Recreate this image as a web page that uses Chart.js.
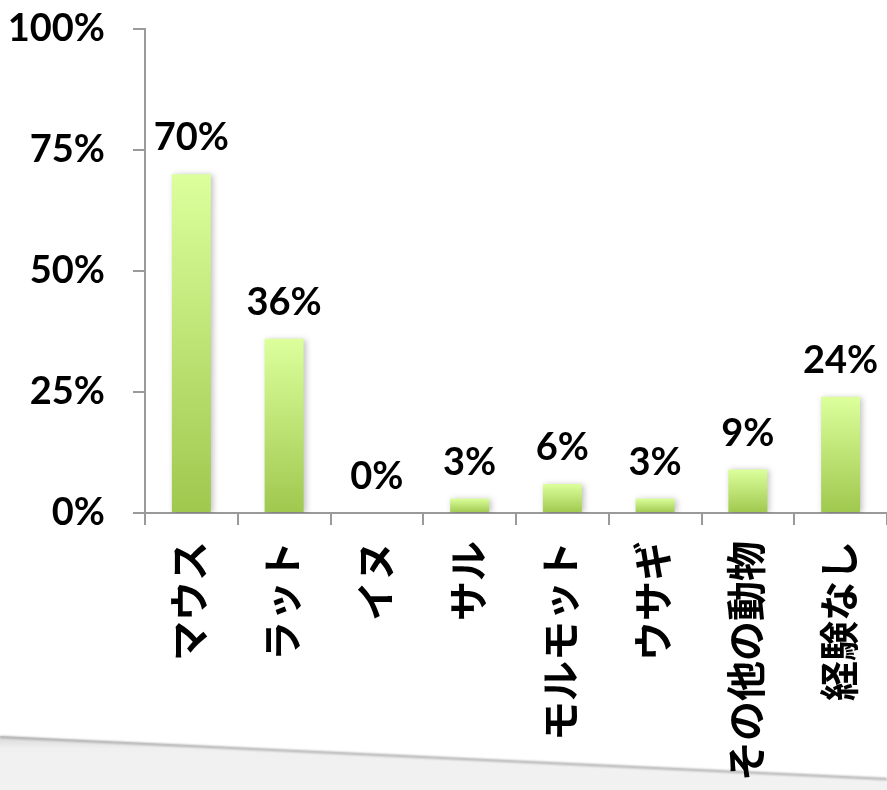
<!DOCTYPE html>
<html>
<head>
<meta charset="utf-8">
<script src="https://cdn.jsdelivr.net/npm/chart.js@4"></script>
<style>
  html, body { margin: 0; padding: 0; background: #fff; }
  #wrap { width: 887px; height: 790px; position: relative; }
</style>
</head>
<body>
<div id="wrap"><canvas id="chart" width="887" height="790"></canvas></div>
<script>
// ── Data ────────────────────────────────────────────────────────────────────
const animals = ['マウス', 'ラット', 'イヌ', 'サル', 'モルモット', 'ウサギ', 'その他の動物', '経験なし'];
const percents = [70, 36, 0, 3, 6, 3, 9, 24];
const yTicks = [0, 25, 50, 75, 100];

// ── Style ───────────────────────────────────────────────────────────────────
const FONT = "'Lato', 'Noto Sans CJK JP', sans-serif";
const BAR_TOP = '#dcff9c';
const BAR_BOTTOM = '#9fc84e';
const AXIS = '#9a9a9a';

// per-bar vertical gradient, light at the top
function barFill(ctx) {
  const chart = ctx.chart;
  const y = chart.scales && chart.scales.y;
  if (!y || ctx.raw == null) return BAR_TOP;
  const top = y.getPixelForValue(ctx.raw);
  const bottom = y.getPixelForValue(0);
  if (!isFinite(top) || !isFinite(bottom) || bottom - top < 1) return BAR_TOP;
  const g = chart.ctx.createLinearGradient(0, top, 0, bottom);
  g.addColorStop(0, BAR_TOP);
  g.addColorStop(1, BAR_BOTTOM);
  return g;
}

// grey page-curl band along the bottom edge
const pageCurl = {
  id: 'pageCurl',
  beforeDraw(chart) {
    const c = chart.ctx;
    const w = chart.width, h = chart.height;
    c.save();
    const g = c.createLinearGradient(0, 735, 0, h);
    g.addColorStop(0, '#d6d6d6');
    g.addColorStop(0.25, '#f0f0f0');
    g.addColorStop(1, '#f2f2f2');
    c.fillStyle = g;
    c.beginPath();
    c.moveTo(0, 736);
    c.lineTo(w, 778);
    c.lineTo(w, h);
    c.lineTo(0, h);
    c.closePath();
    c.fill();
    c.strokeStyle = 'rgba(150,150,150,0.8)';
    c.lineWidth = 2;
    c.filter = 'blur(1px)';
    c.beginPath();
    c.moveTo(0, 737);
    c.lineTo(w, 779);
    c.stroke();
    c.restore();
  }
};

// soft drop shadow behind the bars
const barShadow = {
  id: 'barShadow',
  beforeDatasetsDraw(chart) {
    const c = chart.ctx;
    c.save();
    c.shadowColor = 'rgba(0,0,0,0.25)';
    c.shadowBlur = 6;
    c.shadowOffsetX = 2;
    c.shadowOffsetY = 1;
  },
  afterDatasetsDraw(chart) {
    chart.ctx.restore();
  }
};

// percentage labels above each bar
const valueLabels = {
  id: 'valueLabels',
  afterDatasetsDraw(chart) {
    const c = chart.ctx;
    const meta = chart.getDatasetMeta(0);
    c.save();
    c.font = `bold 38px ${FONT}`;
    c.fillStyle = '#000';
    c.textAlign = 'center';
    c.textBaseline = 'middle';
    meta.data.forEach((bar, i) => {
      c.fillText(percents[i] + '%', bar.x, bar.y - 36);
    });
    c.restore();
  }
};

new Chart(document.getElementById('chart'), {
  type: 'bar',
  data: {
    labels: animals,
    datasets: [{
      data: percents,
      backgroundColor: barFill,
      borderWidth: 0,
      categoryPercentage: 1,
      barPercentage: 0.42,
    }],
  },
  plugins: [pageCurl, barShadow, valueLabels],
  options: {
    responsive: false,
    animation: false,
    layout: { padding: { top: 29, right: 0, bottom: 0, left: 0 } },
    plugins: {
      legend: { display: false },
      tooltip: { enabled: false },
    },
    scales: {
      x: {
        border: { color: AXIS, width: 2 },
        grid: { drawOnChartArea: false, drawTicks: true, tickLength: 12, color: AXIS, lineWidth: 2, offset: true },
        ticks: {
          color: '#000',
          minRotation: 90,
          maxRotation: 90,
          padding: 16,
          font: { family: FONT, size: 40, weight: 'bold' },
        },
        afterFit(scale) {
          scale.height = 790 - 513;
          scale.paddingLeft = 0;
          scale.paddingRight = 0;
        },
      },
      y: {
        min: 0,
        max: 100,
        afterBuildTicks(scale) { scale.ticks = yTicks.map(v => ({ value: v })); },
        border: { color: AXIS, width: 2 },
        grid: { drawOnChartArea: false, drawTicks: true, tickLength: 12, color: AXIS, lineWidth: 2 },
        ticks: {
          color: '#000',
          padding: 28,
          callback: v => v + '%',
          font: { family: FONT, size: 38, weight: 'bold' },
        },
        afterFit(scale) {
          scale.width = 145;
          scale.paddingTop = 0;
          scale.paddingBottom = 0;
        },
      },
    },
  },
});
</script>
</body>
</html>
